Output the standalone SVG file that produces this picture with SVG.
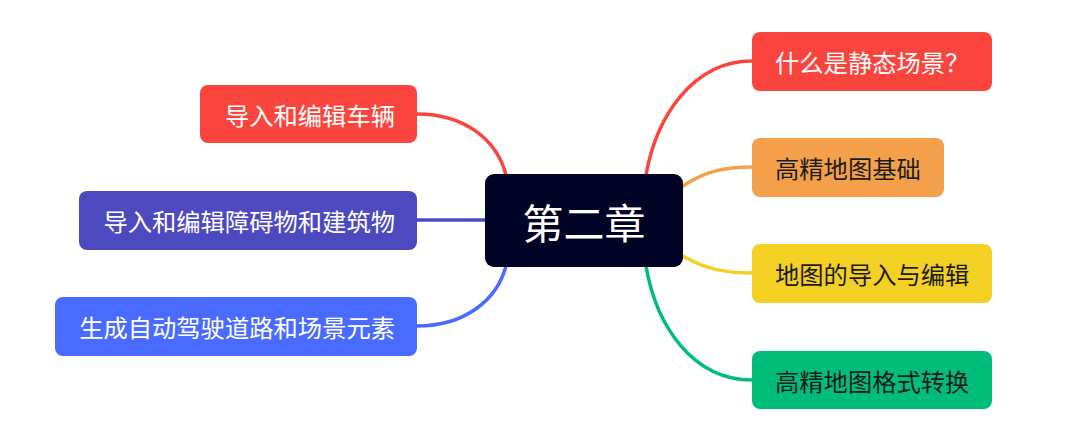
<svg xmlns="http://www.w3.org/2000/svg" width="1080" height="438" viewBox="0 0 1080 438">
<style>
.t{font-family:"Noto Sans CJK SC","Noto Sans",sans-serif;font-size:24.3px;dominant-baseline:central}
.w{fill:#ffffff}
.d{fill:#1c1c1c}
.c{fill:none;stroke-width:3.5;stroke-linecap:round}
</style>
<rect width="1080" height="438" fill="#ffffff"/>
<g id="connectors">
<path class="c" stroke="#F9453D" d="M646 175 C656 118 692 61 752 61"/>
<path class="c" stroke="#F4A04A" d="M683 186 C705 171 725 167 752 167"/>
<path class="c" stroke="#F2D024" d="M683 256 C705 269 725 273 752 273"/>
<path class="c" stroke="#00BD7C" d="M646 266 C656 325 692 380 752 380"/>
<path class="c" stroke="#F9453D" d="M417 114 C465 114 497 140 506 175"/>
<path class="c" stroke="#4D4ABF" d="M417 220 L486 220"/>
<path class="c" stroke="#4A6BFF" d="M417 326 C465 326 497 300 506 266"/>
</g>
<g id="center">
<rect x="485" y="174" width="198" height="93" rx="9" fill="#020426"/>
<text x="584" y="221" text-anchor="middle" style="font-family:'Noto Sans CJK SC','Noto Sans',sans-serif;font-size:41px;dominant-baseline:central" fill="#ffffff">第二章</text>
</g>
<g id="r1">
<rect x="752" y="32" width="240" height="59" rx="8" fill="#F9453D"/>
<text class="t w" x="775" y="61">什么是静态场景？</text>
</g>
<g id="r2">
<rect x="752" y="138" width="192" height="59" rx="8" fill="#F4A04A"/>
<text class="t d" x="775" y="167">高精地图基础</text>
</g>
<g id="r3">
<rect x="752" y="244" width="240" height="59" rx="8" fill="#F2D024"/>
<text class="t d" x="775" y="273">地图的导入与编辑</text>
</g>
<g id="r4">
<rect x="752" y="351" width="240" height="58" rx="8" fill="#00BD7C"/>
<text class="t d" x="775" y="380">高精地图格式转换</text>
</g>
<g id="l1">
<rect x="200" y="85" width="217" height="58" rx="8" fill="#F9453D"/>
<text class="t w" x="395" y="114" text-anchor="end">导入和编辑车辆</text>
</g>
<g id="l2">
<rect x="79" y="191" width="338" height="59" rx="8" fill="#4D4ABF"/>
<text class="t w" x="395" y="220" text-anchor="end">导入和编辑障碍物和建筑物</text>
</g>
<g id="l3">
<rect x="55" y="297" width="362" height="59" rx="8" fill="#4A6BFF"/>
<text class="t w" x="395" y="326" text-anchor="end">生成自动驾驶道路和场景元素</text>
</g>
</svg>
